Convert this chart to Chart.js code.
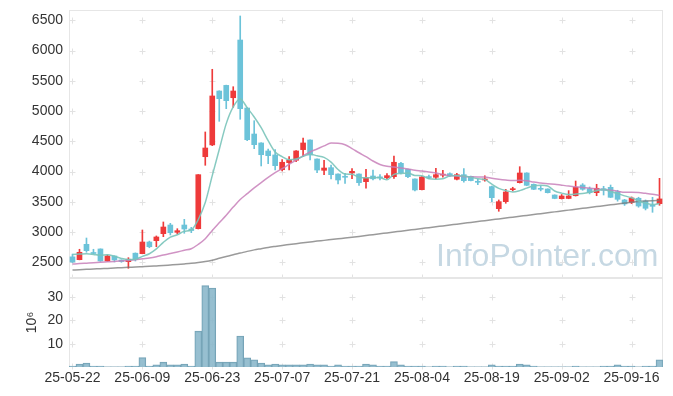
<!DOCTYPE html>
<html><head><meta charset="utf-8">
<script src="https://cdn.jsdelivr.net/npm/chart.js@4.4.1/dist/chart.umd.min.js"></script>
<style>
html,body{margin:0;padding:0;background:#fff;}
#wrap{position:relative;width:673px;height:396px;overflow:hidden;background:#fff;}
canvas{position:absolute;left:0;}
#c1{top:0;} #c2{top:278px;}
#wm{position:absolute;left:436px;top:237px;font:32px "Liberation Sans",Arial,sans-serif;color:#c6d8e3;white-space:nowrap;pointer-events:none;}
</style></head><body>
<div id="wrap">
<canvas id="c1" width="673" height="278"></canvas>
<canvas id="c2" width="673" height="118"></canvas>
<div id="wm">InfoPointer.com</div>
</div>
<script>
const dates = ['25-05-22','25-05-23','25-05-26','25-05-27','25-05-28','25-05-29','25-05-30',
'25-06-02','25-06-04','25-06-05','25-06-09','25-06-10','25-06-11','25-06-12','25-06-13','25-06-16','25-06-17','25-06-18','25-06-19','25-06-20','25-06-23','25-06-24','25-06-25','25-06-26','25-06-27','25-06-30',
'25-07-01','25-07-02','25-07-03','25-07-04','25-07-07','25-07-08','25-07-09','25-07-10','25-07-11','25-07-14','25-07-15','25-07-16','25-07-17','25-07-18','25-07-21','25-07-22','25-07-23','25-07-24','25-07-25','25-07-28','25-07-29','25-07-30','25-07-31',
'25-08-01','25-08-04','25-08-05','25-08-06','25-08-07','25-08-08','25-08-11','25-08-12','25-08-13','25-08-14','25-08-18','25-08-19','25-08-20','25-08-21','25-08-22','25-08-25','25-08-26','25-08-27','25-08-28','25-08-29',
'25-09-01','25-09-02','25-09-03','25-09-04','25-09-05','25-09-08','25-09-09','25-09-10','25-09-11','25-09-12','25-09-15','25-09-16','25-09-17','25-09-18','25-09-19','25-09-22'];
const tickLabels = ['25-05-22','25-06-09','25-06-23','25-07-07','25-07-21','25-08-04','25-08-19','25-09-02','25-09-16'];
const priceTicks = [2500,3000,3500,4000,4500,5000,5500,6000,6500];
const volumeTicks = [10,20,30];

const opens = [2590,2543,2797,2655,2720,2521,2604,2538,2510,2650,
2642,2835,2857,2973,3116,2995,3116,3050,3055,4245,
4440,5331,5424,5220,6174,5050,4620,4472,4340,4274,
4030,4147,4186,4362,4521,4207,4020,4064,3959,3915,
3976,3959,3832,3926,3912,3899,3915,4136,4037,3877,
3700,3910,3905,3940,3965,3872,3948,3921,3832,3860,
3751,3386,3502,3700,3816,3976,3789,3716,3711,3612,
3551,3555,3600,3777,3717,3650,3717,3739,3667,3530,
3492,3558,3513,3440,3469];
const highs = [2635,2715,2901,2715,2722,2620,2606,2540,2576,2655,
3033,2850,2935,3166,3144,3055,3210,3078,3950,4654,
5690,5335,5428,5402,6571,5055,4840,4476,4373,4362,
4196,4245,4345,4554,4525,4210,4185,4108,3962,3970,
4047,3962,4037,4025,3950,3965,4257,4150,4040,3880,
3915,3940,4053,4020,3980,3970,4047,3925,3872,3930,
3760,3530,3706,3740,4080,3980,3795,3760,3715,3615,
3620,3684,3843,3800,3745,3789,3756,3777,3690,3540,
3580,3575,3530,3574,3888];
const lows = [2495,2540,2665,2640,2515,2515,2505,2500,2400,2521,
2640,2740,2757,2923,2951,2968,2979,2989,3050,4103,
4427,4830,5039,5062,4864,4510,4378,4092,4130,4025,
4009,4025,4163,4245,4190,3981,3948,3877,3794,3805,
3882,3772,3723,3860,3860,3880,3888,3960,3900,3678,
3695,3880,3882,3905,3915,3860,3822,3845,3783,3840,
3502,3343,3475,3680,3810,3765,3700,3680,3645,3550,
3545,3550,3595,3690,3630,3600,3612,3570,3510,3440,
3470,3410,3365,3326,3442];
const closes = [2505,2665,2692,2645,2521,2604,2538,2512,2550,2550,
2835,2757,2918,3083,2989,3022,3050,3025,3948,4389,
5249,5204,5171,5331,5039,4526,4444,4278,4262,4097,
4153,4190,4340,4472,4274,4025,4058,3948,3860,3905,
4003,3816,3899,3880,3895,3932,4153,3981,3915,3695,
3910,3900,3948,3952,3930,3948,3849,3850,3822,3870,
3568,3502,3662,3712,3976,3772,3706,3706,3650,3555,
3596,3596,3739,3706,3650,3723,3690,3574,3541,3464,
3563,3430,3392,3425,3547];
const ma5 = [2630,2635,2640,2630,2615,2625,2600,2564,2545,2551,
2597,2641,2722,2829,2916,2954,3012,3034,3207,3487,
3932,4363,4792,5069,5199,5054,4902,4724,4510,4321,
4247,4196,4208,4250,4286,4260,4234,4155,4033,3959,
3955,3906,3897,3901,3899,3864,3952,3968,3975,3935,
3931,3880,3874,3881,3928,3936,3925,3906,3880,3868,
3792,3722,3685,3663,3684,3725,3766,3774,3762,3678,
3643,3621,3627,3638,3657,3683,3702,3669,3636,3598,
3566,3514,3478,3455,3471];
const ma20 = [2470,2478,2485,2492,2500,2507,2514,2522,2530,2540,
2557,2570,2591,2620,2644,2670,2698,2724,2796,2890,
3027,3154,3278,3412,3538,3634,3729,3818,3903,3981,
4047,4118,4189,4259,4323,4373,4424,4470,4466,4442,
4379,4310,4246,4174,4117,4087,4073,4058,4041,4021,
4009,3994,3975,3949,3932,3928,3917,3912,3910,3909,
3887,3871,3859,3851,3855,3847,3825,3811,3798,3791,
3775,3760,3750,3737,3723,3712,3704,3690,3676,3656,
3656,3652,3639,3624,3603];
const ma120 = [2372,2377,2383,2388,2394,2399,2405,2410,2416,2421,
2427,2433,2440,2447,2455,2463,2472,2482,2495,2512,
2535,2565,2595,2625,2652,2680,2705,2725,2745,2762,
2778,2793,2808,2822,2836,2850,2862,2875,2888,2900,
2913,2927,2942,2956,2971,2985,3000,3014,3029,3043,
3058,3072,3087,3101,3116,3130,3145,3159,3174,3188,
3203,3217,3232,3246,3261,3275,3290,3304,3319,3333,
3348,3362,3377,3391,3406,3420,3435,3449,3464,3478,
3493,3505,3512,3517,3521];
const volumes = [0.4,1.3,1.7,0.4,0.4,0.05,0.05,0.05,0.4,0.4,
4.0,0.4,0.9,2.1,0.9,0.9,1.3,0.4,15.4,34.9,
33.9,2.1,2.1,2.1,13.3,3.9,3.1,1.7,0.9,1.3,
0.9,0.9,0.9,0.9,1.3,0.9,0.9,0.4,0.9,0.4,
0.4,0.4,1.3,0.9,0.4,0.4,2.3,0.9,0.4,0.4,
0.4,0.05,0.4,0.4,0.05,0.4,0.4,0.05,0.05,0.05,
0.9,0.4,0.4,0.4,1.3,0.9,0.4,0.05,0.05,0.05,
0.05,0.05,0.4,0.05,0.05,0.05,0.4,0.4,0.9,0.4,
0.4,0.05,0.4,0.4,3.1];

const UP = '#ee3a3a', DOWN = '#6cc3d9';
const FONT = {family:'"Liberation Sans", Arial, sans-serif', size:14};
const candleColor = c => closes[c.dataIndex] >= opens[c.dataIndex] ? UP : DOWN;
const noPad = s => { s.width = 69; s.paddingTop = 0; s.paddingBottom = 0; };

const crossGrid = {
  id:'crossGrid',
  beforeDatasetsDraw(chart){
    const {ctx, chartArea:a, scales:{x,y}} = chart;
    ctx.save();
    ctx.beginPath();
    ctx.strokeStyle = '#e2e2e2'; ctx.lineWidth = 1;
    const xs = tickLabels.map(l => Math.round(x.getPixelForValue(dates.indexOf(l))) + 0.5);
    const ys = (chart.canvas.id === 'c1' ? priceTicks : volumeTicks).map(v => Math.round(y.getPixelForValue(v)) + 0.5);
    ys.push(Math.round(a.bottom) - 0.5);
    ys.forEach(py => xs.forEach(px => {
      ctx.moveTo(px-3, py); ctx.lineTo(px+3, py);
      ctx.moveTo(px, py-3); ctx.lineTo(px, py+3);
    }));
    ctx.stroke();
    ctx.strokeStyle = '#e6e6e6';
    ctx.strokeRect(Math.round(a.left)+0.5, Math.round(a.top)+0.5, Math.round(a.right-a.left)-1, Math.round(a.bottom-a.top)-1);
    ctx.restore();
  }
};

new Chart(document.getElementById('c1'), {
  type:'bar',
  data:{
    labels: dates,
    datasets:[
      {type:'line', data: ma5, borderColor:'rgba(122,196,186,0.9)', borderWidth:1.5, pointRadius:0, cubicInterpolationMode:'monotone', order:0},
      {type:'line', data: ma20, borderColor:'rgba(200,128,186,0.85)', borderWidth:1.5, pointRadius:0, cubicInterpolationMode:'monotone', order:0},
      {type:'line', data: ma120, borderColor:'rgba(120,120,120,0.75)', borderWidth:1.5, pointRadius:0, cubicInterpolationMode:'monotone', order:0},
      {data: opens.map((o,i)=>[o, closes[i]]), backgroundColor: candleColor, barThickness:5, minBarLength:1, grouped:false, order:1, borderWidth:0},
      {data: lows.map((l,i)=>[l, highs[i]]), backgroundColor: candleColor, barThickness:1, grouped:false, order:2, borderWidth:0}
    ]
  },
  options:{
    responsive:false, animation:false, devicePixelRatio:1,
    layout:{padding:{top:10, right:10, left:0, bottom:0}},
    plugins:{legend:{display:false}, tooltip:{enabled:false}},
    scales:{
      x:{display:false, offset:true},
      y:{min:2240, max:6670,
         afterFit: noPad,
         afterBuildTicks(s){ s.ticks = priceTicks.map(v=>({value:v})); },
         grid:{display:false, drawTicks:false}, border:{display:false},
         ticks:{padding:6, color:'#333', font:FONT, callback:v => String(v)}}
    }
  },
  plugins:[crossGrid]
});

new Chart(document.getElementById('c2'), {
  type:'bar',
  data:{
    labels: dates,
    datasets:[{data: volumes, backgroundColor:'rgba(140,184,203,0.9)', borderColor:'#76a3b6',
      borderWidth: c => volumes[c.dataIndex] < 0.2 ? 0 : 1, barPercentage:1, categoryPercentage:1}]
  },
  options:{
    responsive:false, animation:false, devicePixelRatio:1,
    layout:{padding:{top:0, right:10, left:0, bottom:0}},
    plugins:{legend:{display:false}, tooltip:{enabled:false}},
    scales:{
      x:{offset:true, afterFit(s){ s.height = 29; },
         grid:{display:false, drawTicks:false}, border:{display:false},
         ticks:{autoSkip:false, maxRotation:0, padding:3, color:'#333', font:FONT,
           callback:(v,i)=> tickLabels.includes(dates[i]) ? dates[i] : ''}},
      y:{min:0, max:38.2,
         afterFit: noPad,
         afterBuildTicks(s){ s.ticks = volumeTicks.map(v=>({value:v})); },
         grid:{display:false, drawTicks:false}, border:{display:false},
         title:{display:true, text:'10⁶', color:'#333', font:FONT, padding:{top:24, bottom:0}},
         ticks:{padding:6, color:'#333', font:FONT, callback:v => String(v)}}
    }
  },
  plugins:[crossGrid]
});
</script>
</body></html>
